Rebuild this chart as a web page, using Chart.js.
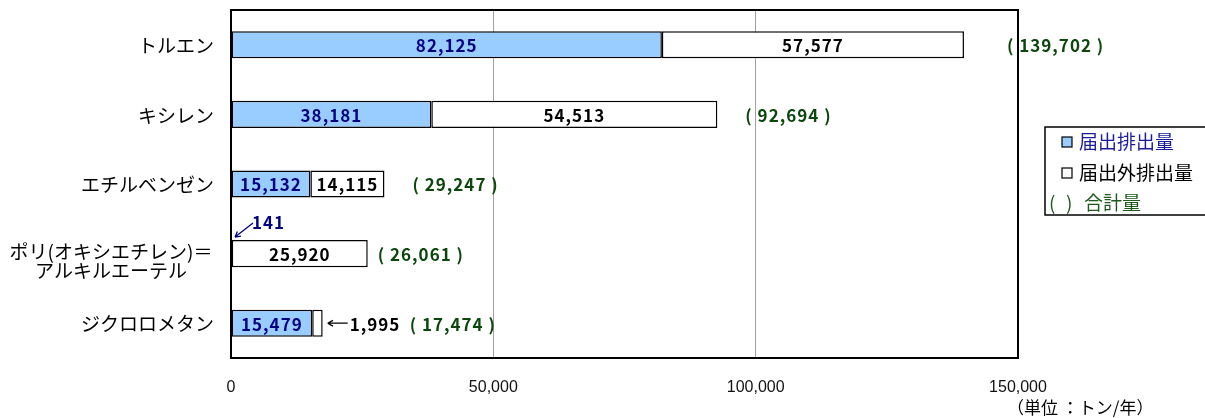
<!doctype html>
<html>
<head>
<meta charset="utf-8">
<title>届出排出量・届出外排出量</title>
<script src="https://cdn.jsdelivr.net/npm/chart.js@4.4.1/dist/chart.umd.min.js"></script>
<style>
  html, body { margin: 0; padding: 0; background: #fff; }
  canvas { display: block; }
</style>
</head>
<body>
<canvas id="myChart" width="1205" height="418"></canvas>
<script>
  // data (トン/年)
  const categories = ['トルエン', 'キシレン', 'エチルベンゼン', ['ポリ(オキシエチレン)＝', 'アルキルエーテル'], 'ジクロロメタン'];
  const reported = [82125, 38181, 15132, 141, 15479];     // 届出排出量
  const unreported = [57577, 54513, 14115, 25920, 1995];  // 届出外排出量
  const totals = [139702, 92694, 29247, 26061, 17474];    // 合計量
  const xTicks = [0, 50000, 100000, 150000];

  const fmt = v => Number(v).toLocaleString('en-US');
  const JP = '"Noto Sans CJK JP", sans-serif';
  const NUM_FONT = 'bold 17px ' + JP;
  const NAVY = '#000080';
  const GREEN = '#0b470b';
  const BLUE = '#99CCFF';

  // gap (px) between end of bar and the total label, as laid out in the original
  const totalGap = [43, 28, 28, 10, 87];

  function arrow(ctx, x1, y1, x2, y2, color) {
    const a = Math.atan2(y2 - y1, x2 - x1), h = 6;
    ctx.strokeStyle = color;
    ctx.lineWidth = 1.3;
    ctx.beginPath();
    ctx.moveTo(x1, y1); ctx.lineTo(x2, y2);
    ctx.moveTo(x2, y2); ctx.lineTo(x2 - h * Math.cos(a - 0.5), y2 - h * Math.sin(a - 0.5));
    ctx.moveTo(x2, y2); ctx.lineTo(x2 - h * Math.cos(a + 0.5), y2 - h * Math.sin(a + 0.5));
    ctx.stroke();
  }

  const boxPlugin = {
    id: 'box',
    beforeDatasetsDraw(chart) {
      const {ctx, chartArea: a} = chart;
      ctx.save();
      ctx.strokeStyle = '#000';
      ctx.lineWidth = 2;
      ctx.strokeRect(a.left, a.top, a.right - a.left, a.bottom - a.top);
      ctx.restore();
    }
  };

  const labelPlugin = {
    id: 'labels',
    afterDraw(chart) {
      const {ctx, chartArea: area} = chart;
      const xs = chart.scales.x, ys = chart.scales.y;
      ctx.save();

      // category labels
      ctx.fillStyle = '#000';
      ctx.font = '19px ' + JP;
      ctx.textBaseline = 'middle';
      categories.forEach((c, i) => {
        const y = ys.getPixelForValue(i);
        if (Array.isArray(c)) {
          ctx.textAlign = 'center';
          ctx.fillText(c[0], 111, y - 2);
          ctx.fillText(c[1], 111, y + 17);
        } else {
          ctx.textAlign = 'right';
          ctx.fillText(c, area.left - 17, y + 1);
        }
      });

      // values inside bars
      ctx.font = NUM_FONT;
      ctx.letterSpacing = '1px';
      ctx.textAlign = 'center';
      const m0 = chart.getDatasetMeta(0), m1 = chart.getDatasetMeta(1);
      m0.data.forEach((bar, i) => {
        if (i === 3) return;
        ctx.fillStyle = NAVY;
        ctx.fillText(fmt(reported[i]), (bar.x + bar.base) / 2, bar.y + 1);
      });
      m1.data.forEach((bar, i) => {
        if (i === 4) return;
        ctx.fillStyle = '#000';
        ctx.fillText(fmt(unreported[i]), (bar.x + bar.base) / 2, bar.y + 1);
      });

      // totals
      ctx.textAlign = 'left';
      ctx.fillStyle = GREEN;
      totals.forEach((t, i) => {
        const x = xs.getPixelForValue(t) + totalGap[i];
        ctx.fillText('( ' + fmt(t) + ' )', x, ys.getPixelForValue(i) + 1);
      });

      // 141 callout
      const b3 = m0.data[3];
      const top3 = b3.y - b3.height / 2;
      const x3 = xs.getPixelForValue(0);
      arrow(ctx, x3 + 22, top3 - 17, x3 + 4, top3 - 3, NAVY);
      ctx.fillStyle = NAVY;
      ctx.fillText(fmt(reported[3]), x3 + 21, top3 - 17);

      // 1,995 callout
      const xe = xs.getPixelForValue(totals[4]);
      const y4 = ys.getPixelForValue(4);
      arrow(ctx, xe + 25, y4, xe + 5, y4, '#000');
      ctx.fillStyle = '#000';
      ctx.fillText(fmt(unreported[4]), xe + 27, y4 + 1);
      ctx.letterSpacing = '0px';

      // unit
      ctx.font = '17px ' + JP;
      ctx.fillStyle = '#000';
      ctx.fillText('（単位 ：トン/年）', 1007, 408);

      // legend box
      ctx.lineWidth = 1.5;
      ctx.strokeStyle = '#000';
      ctx.fillStyle = '#fff';
      ctx.fillRect(1045, 127, 170, 88);
      ctx.strokeRect(1045, 127, 170, 88);
      ctx.font = '19px ' + JP;
      ctx.lineWidth = 1.2;
      ctx.fillStyle = BLUE;
      ctx.fillRect(1062, 137, 10, 10);
      ctx.strokeRect(1062, 137, 10, 10);
      ctx.fillStyle = '#1a1a9a';
      ctx.fillText('届出排出量', 1079, 142);
      ctx.fillStyle = '#fff';
      ctx.fillRect(1062, 168, 10, 10);
      ctx.strokeRect(1062, 168, 10, 10);
      ctx.fillStyle = '#000';
      ctx.fillText('届出外排出量', 1079, 173);
      ctx.fillStyle = '#1e5a1e';
      ctx.fillText('(', 1049, 203);
      ctx.fillText(')', 1066, 203);
      ctx.fillText('合計量', 1084, 203);

      ctx.restore();
    }
  };

  const ctx = document.getElementById('myChart').getContext('2d');
  const myChart = new Chart(ctx, {
    type: 'bar',
    data: {
      labels: categories,
      datasets: [
        {
          label: '届出排出量',
          data: reported,
          backgroundColor: BLUE,
          borderColor: '#000',
          borderWidth: 1.5,
          borderSkipped: false,
        },
        {
          label: '届出外排出量',
          data: unreported,
          backgroundColor: '#fff',
          borderColor: '#000',
          borderWidth: 1.5,
          borderSkipped: false,
        },
      ]
    },
    options: {
      indexAxis: 'y',
      responsive: false,
      animation: false,
      devicePixelRatio: 1,
      layout: { padding: { left: 231, right: 187, top: 10, bottom: 0 } },
      datasets: { bar: { categoryPercentage: 1, barPercentage: 0.39 } },
      scales: {
        x: {
          stacked: true,
          min: xTicks[0],
          max: xTicks[xTicks.length - 1],
          afterBuildTicks: s => { s.ticks = xTicks.map(v => ({ value: v })); },
          afterFit: s => { s.height = 60; },
          grid: { color: '#a0a0a0', drawTicks: false },
          border: { display: false },
          ticks: {
            padding: 20,
            color: '#111',
            font: { family: 'Liberation Sans', size: 16 },
            callback: v => fmt(v)
          }
        },
        y: {
          stacked: true,
          display: false
        }
      },
      plugins: {
        legend: { display: false },
        tooltip: { enabled: false }
      }
    },
    plugins: [boxPlugin, labelPlugin]
  });
</script>
</body>
</html>
